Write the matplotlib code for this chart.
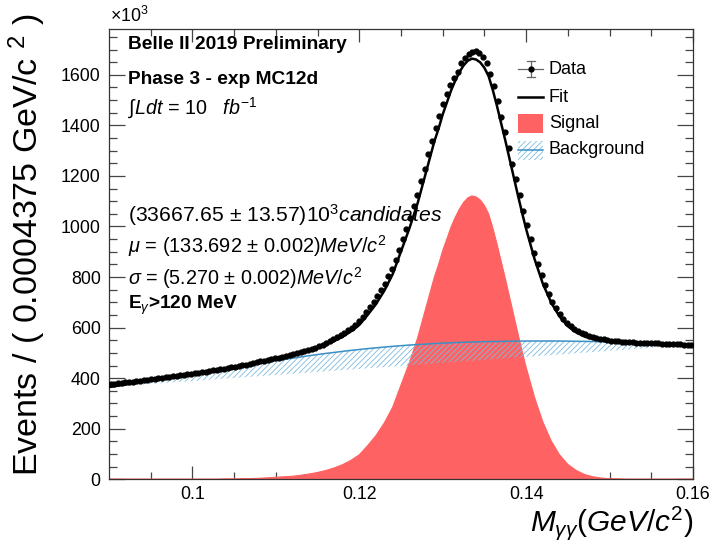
import numpy as np
import matplotlib
matplotlib.use("Agg")
import matplotlib.pyplot as plt
from matplotlib.patches import Rectangle
from matplotlib.lines import Line2D

plt.rcParams['font.family'] = ['Liberation Sans', 'DejaVu Sans']
plt.rcParams['mathtext.fontset'] = 'custom'
plt.rcParams['mathtext.rm'] = 'Liberation Sans'
plt.rcParams['mathtext.it'] = 'Liberation Sans:italic'
plt.rcParams['mathtext.bf'] = 'Liberation Sans:bold'
plt.rcParams['hatch.linewidth'] = 0.6

# ---------------- data (values in units of 10^3 events) ----------------
# bin centres: 160 bins of 0.0004375 GeV between 0.09 and 0.16
bin_lo = 0.09
bin_w = 0.0004375
data_counts = [
    376, 377, 379, 381, 383, 385, 386, 388, 390, 392,
    394, 396, 398, 400, 402, 404, 406, 408, 410, 412,
    414, 416, 418, 419, 421, 423, 426, 428, 431, 433,
    435, 438, 440, 443, 446, 449, 451, 454, 457, 460,
    463, 466, 469, 472, 475, 478, 481, 484, 488, 491,
    494, 498, 502, 507, 511, 515, 520, 526, 532, 539,
    546, 553, 561, 570, 579, 589, 600, 612, 625, 642,
    660, 681, 702, 725, 748, 774, 803, 833, 868, 908,
    950, 992, 1035, 1080, 1126, 1178, 1228, 1285, 1338, 1390,
    1438, 1483, 1524, 1560, 1588, 1612, 1645, 1665, 1683, 1691,
    1695, 1688, 1672, 1645, 1605, 1555, 1495, 1434, 1372, 1311,
    1249, 1187, 1124, 1062, 1004, 950, 897, 851, 808, 769,
    734, 703, 679, 654, 636, 619, 607, 596, 587, 579,
    573, 567, 562, 559, 556, 553, 551, 549, 547, 546,
    545, 544, 543, 542, 541, 540, 540, 539, 539, 538,
    538, 537, 537, 536, 535, 535, 534, 533, 533, 532,
]

# fitted components: 1 MeV sampling, 0.5 MeV around the peak
curve_x = np.round(np.concatenate([
    np.arange(0.090, 0.1281, 0.001),
    np.arange(0.1285, 0.1401, 0.0005),
    np.arange(0.141, 0.1601, 0.001),
]), 5)
signal = [
    0, 0, 0, 0, 0, 0, 0, 0, 0, 0,          # 0.090 - 0.099
    0, 0, 0, 0, 1, 1, 2, 3, 4, 6,          # 0.100 - 0.109
    8, 10, 12, 16, 21, 27, 35, 45, 58, 75,  # 0.110 - 0.119
    97, 133, 173, 223, 285, 373, 461, 560, 680,  # 0.120 - 0.128
    740, 800, 849, 905, 951, 998, 1036, 1069, 1095, 1113,   # 0.1285 - 0.133
    1121, 1117, 1105, 1083, 1050, 995, 932, 863, 795, 723,  # 0.1335 - 0.138
    651, 579, 509, 443,                    # 0.1385 - 0.140
    325, 227, 152, 97, 59, 35, 19, 10, 5, 2,  # 0.141 - 0.150
    1, 0, 0, 0, 0, 0, 0, 0, 0, 0,          # 0.151 - 0.160
]
background = [
    365, 370, 375, 380, 385, 390, 395, 400, 405, 410,
    415, 420.5, 426, 431.5, 437, 442.5, 448, 453.5, 459, 464,
    469, 474, 479, 484, 489, 493.5, 498, 502, 506, 510,
    513.5, 517, 520, 523, 526, 528.5, 531, 533, 535,
    536, 537, 537.8, 538.5, 539.3, 540, 540.8, 541.5, 542, 542.5,
    543, 543.5, 544, 544.5, 544.8, 545, 545.3, 545.5, 545.8, 546,
    546.3, 546.5, 546.8, 547,
    547, 547, 547, 547, 546.5, 546, 545.5, 545, 544.5, 544,
    543, 542, 541, 540, 539, 538, 536.5, 535, 533.5, 532,
]

x_ticks = [0.1, 0.12, 0.14, 0.16]
y_ticks = [0, 200, 400, 600, 800, 1000, 1200, 1400, 1600]

# ---------------- figure ----------------
W, H = 712, 541
fig = plt.figure(figsize=(W / 100, H / 100), dpi=100)
ax = fig.add_axes([109 / W, 1 - 479.3 / H, 584 / W, 450 / H])


def P(x, y):
    # pixel position in the picture -> figure fraction
    return x / W, 1 - y / H


sig = np.array(signal, dtype=float)
bkg = np.array(background, dtype=float)
fit = sig + bkg
xd = bin_lo + bin_w * (np.arange(len(data_counts)) + 0.5)

red = '#ff6262'
blue = '#3a8fc4'
hatch_col = '#7dbbe0'

# signal (closed polygon like RooFit "F")
ax.fill(curve_x, sig, facecolor=red, edgecolor=red, lw=0.8, zorder=2)
# background: hatched polygon closed by the chord between end points
ax.fill(curve_x, bkg, facecolor='none', edgecolor=hatch_col, lw=0,
        hatch='//////', zorder=3)
ax.plot(curve_x, bkg, color=blue, lw=1.1, zorder=4)
# total fit
ax.plot(curve_x, fit, color='black', lw=1.8, zorder=5)
# data
ax.plot(xd, data_counts, 'o', color='black', ms=3.5, zorder=6)

ax.set_xlim(0.09, 0.16)
ax.set_ylim(0, 1780)
ax.set_xticks(x_ticks)
ax.set_xticklabels(['%g' % t for t in x_ticks])
ax.set_xticks(np.arange(0.095, 0.16, 0.005), minor=True)
ax.set_yticks(y_ticks)
ax.set_yticks(np.arange(50, 1780, 50), minor=True)
ax.tick_params(which='both', direction='in', top=True, right=True,
               labelsize=12.8, color='#444444', width=0.9)
ax.tick_params(axis='x', which='major', length=9.5, pad=5)
ax.tick_params(axis='x', which='minor', length=5)
ax.tick_params(axis='y', which='major', length=11.5, pad=6)
ax.tick_params(axis='y', which='minor', length=6)
for s in ax.spines.values():
    s.set_color('#333333')
    s.set_linewidth(0.9)

# axis titles
fig.text(*P(27, 14), 'Events / ( 0.0004375 GeV/c $^{2}$ )', rotation=90,
         ha='center', va='top', fontsize=24.5)
fig.text(*P(693, 523), r'$M_{\gamma\gamma}(GeV/c^{2})$', ha='right', va='center',
         fontsize=21.5)
fig.text(*P(110, 16), r'$\times$10$^{3}$', ha='left', va='center', fontsize=12.8)

# annotations
fig.text(*P(128, 45), 'Belle II 2019 Preliminary', fontsize=13.8, weight='bold',
         va='center')
fig.text(*P(128, 79), 'Phase 3 - exp MC12d', fontsize=13.8, weight='bold',
         va='center')
fig.text(*P(128, 108), r'$\int Ldt$ = 10   $fb^{-1}$', fontsize=14.2, va='center')
fig.text(*P(128, 215), r'(33667.65 $\pm$ 13.57)10$^{3}$$candidates$',
         fontsize=15.2, va='center')
fig.text(*P(128, 246), r'$\mu$ = (133.692 $\pm$ 0.002)$MeV/c^{2}$', fontsize=14.4,
         va='center')
fig.text(*P(128, 278), r'$\sigma$ = (5.270 $\pm$ 0.002)$MeV/c^{2}$', fontsize=14.2,
         va='center')
fig.text(*P(128, 305), r'E$_{\gamma}$>120 MeV', fontsize=13.8, weight='bold',
         va='center')

# legend (drawn by hand, ROOT style)
tf = fig.transFigure
leg_x0, leg_x1 = 518, 543
rows = {'Data': 69, 'Fit': 97, 'Signal': 123, 'Background': 150}
y = rows['Data']
fig.add_artist(Line2D([P(leg_x0, y)[0], P(leg_x1, y)[0]], [P(0, y)[1]] * 2,
                      transform=tf, color='#666666', lw=0.9))
fig.add_artist(Line2D([P(531, 0)[0]] * 2, [P(0, 61)[1], P(0, 77)[1]],
                      transform=tf, color='#666666', lw=0.9))
for yc in (61, 77):
    fig.add_artist(Line2D([P(527, 0)[0], P(535, 0)[0]], [P(0, yc)[1]] * 2,
                          transform=tf, color='#666666', lw=0.9))
fig.add_artist(Line2D([P(531, 0)[0]], [P(0, y)[1]], transform=tf, marker='o',
                      ms=3.5, color='black', ls='none'))
y = rows['Fit']
fig.add_artist(Line2D([P(leg_x0, y)[0], P(leg_x1, y)[0]], [P(0, y)[1]] * 2,
                      transform=tf, color='black', lw=1.8))
y = rows['Signal']
fig.add_artist(Rectangle(P(leg_x0, y + 9.5), 25 / W, 19 / H, transform=tf,
                         facecolor=red, edgecolor='none'))
y = rows['Background']
fig.add_artist(Rectangle(P(leg_x0, y + 9.5), 25 / W, 19 / H, transform=tf,
                         facecolor='none', edgecolor=hatch_col, lw=0,
                         hatch='//////'))
fig.add_artist(Line2D([P(leg_x0, y)[0], P(leg_x1, y)[0]], [P(0, y)[1]] * 2,
                      transform=tf, color=blue, lw=1.1))
for label, yy in rows.items():
    fig.text(*P(549, yy), label, fontsize=13, va='center')

fig.savefig('out.png', dpi=100)
